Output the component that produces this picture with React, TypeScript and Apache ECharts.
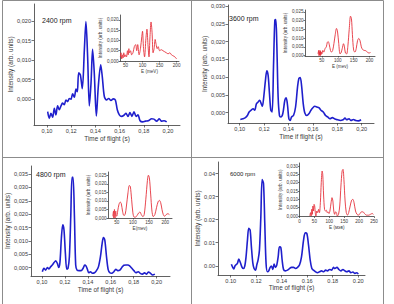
import { useEffect, useRef } from "react";
import * as echarts from "echarts";

const FONT = "'Liberation Sans', Arial, sans-serif";
const BLUE = "#1f1fcc";
const RED = "#e5323c";
const INK = "#3a3a3a";
const RULE = "#8c8c8c";

// Time-of-flight spectra: [time of flight (s), intensity (arb. units)]
const tof2400 = [[0.1006,-0.0032],[0.1019,-0.0049],[0.1033,-0.0036],[0.1047,-0.0046],[0.1061,-0.0023],[0.1074,-0.0040],[0.1088,-0.0017],[0.1102,-0.0027],[0.1116,-0.0017],[0.1129,-0.0010],[0.1143,-0.0014],[0.1157,-0.0002],[0.1171,-0.0006],[0.1185,0.0002],[0.1198,0.0000],[0.1212,0.0014],[0.1226,0.0005],[0.1240,0.0026],[0.1251,0.0019],[0.1262,0.0068],[0.1276,0.0062],[0.1292,0.0027],[0.1309,0.0127],[0.1322,0.0199],[0.1336,0.0109],[0.1350,-0.0017],[0.1364,0.0041],[0.1377,0.0128],[0.1391,0.0067],[0.1408,-0.0043],[0.1424,0.0032],[0.1444,0.0088],[0.1457,0.0058],[0.1474,0.0007],[0.1493,-0.0002],[0.1510,0.0002],[0.1529,-0.0003],[0.1548,0.0001],[0.1565,-0.0002],[0.1581,-0.0027],[0.1598,-0.0040],[0.1617,-0.0044],[0.1636,-0.0041],[0.1653,-0.0036],[0.1669,-0.0044],[0.1686,-0.0034],[0.1702,-0.0044],[0.1719,-0.0032],[0.1736,-0.0044],[0.1752,-0.0040],[0.1769,-0.0055],[0.1791,-0.0058],[0.1813,-0.0056],[0.1837,-0.0055],[0.1865,-0.0050],[0.1884,-0.0051],[0.1906,-0.0056],[0.1928,-0.0050],[0.1945,-0.0056],[0.1967,-0.0055],[0.1989,-0.0058]];

const tof3600 = [[0.1005,-0.0019],[0.1027,-0.0017],[0.1047,-0.0014],[0.1063,-0.0008],[0.1077,0.0002],[0.1096,0.0008],[0.1110,0.0011],[0.1123,0.0007],[0.1137,0.0025],[0.1151,0.0030],[0.1164,0.0035],[0.1178,0.0024],[0.1186,0.0018],[0.1197,0.0044],[0.1211,0.0091],[0.1222,0.0118],[0.1233,0.0105],[0.1244,0.0054],[0.1255,0.0007],[0.1266,0.0002],[0.1277,0.0129],[0.1288,0.0260],[0.1296,0.0262],[0.1304,0.0195],[0.1315,0.0044],[0.1326,-0.0008],[0.1337,-0.0012],[0.1353,-0.0003],[0.1370,0.0035],[0.1381,0.0042],[0.1392,0.0021],[0.1403,-0.0017],[0.1414,-0.0022],[0.1425,-0.0012],[0.1441,-0.0008],[0.1458,0.0016],[0.1474,0.0072],[0.1485,0.0096],[0.1496,0.0099],[0.1507,0.0077],[0.1521,0.0025],[0.1534,-0.0001],[0.1551,-0.0008],[0.1567,-0.0003],[0.1584,0.0007],[0.1600,0.0014],[0.1616,0.0018],[0.1633,0.0016],[0.1649,0.0014],[0.1666,0.0007],[0.1685,0.0002],[0.1704,-0.0008],[0.1721,-0.0012],[0.1740,-0.0017],[0.1759,-0.0014],[0.1781,-0.0018],[0.1803,-0.0020],[0.1825,-0.0022],[0.1847,-0.0020],[0.1863,-0.0015],[0.1877,-0.0020],[0.1896,-0.0017],[0.1912,-0.0022],[0.1932,-0.0019],[0.1951,-0.0022],[0.1973,-0.0023],[0.1995,-0.0020]];

const tof4800 = [[0.1003,-0.0015],[0.1017,-0.0002],[0.1032,-0.0009],[0.1047,0.0001],[0.1061,-0.0005],[0.1076,0.0004],[0.1090,0.0010],[0.1105,0.0019],[0.1120,0.0026],[0.1134,0.0016],[0.1146,0.0001],[0.1157,0.0022],[0.1169,0.0110],[0.1181,0.0160],[0.1192,0.0141],[0.1204,0.0054],[0.1216,-0.0006],[0.1227,-0.0002],[0.1239,0.0041],[0.1251,0.0191],[0.1262,0.0338],[0.1271,0.0338],[0.1283,0.0191],[0.1294,0.0010],[0.1306,-0.0009],[0.1324,-0.0011],[0.1341,-0.0011],[0.1359,-0.0002],[0.1373,0.0010],[0.1385,0.0006],[0.1396,-0.0006],[0.1408,-0.0019],[0.1423,-0.0015],[0.1440,-0.0021],[0.1458,-0.0019],[0.1475,-0.0011],[0.1493,0.0004],[0.1510,0.0041],[0.1525,0.0091],[0.1536,0.0113],[0.1548,0.0103],[0.1563,0.0041],[0.1577,-0.0006],[0.1592,-0.0019],[0.1609,-0.0021],[0.1627,-0.0015],[0.1644,-0.0006],[0.1662,-0.0011],[0.1679,-0.0009],[0.1697,0.0001],[0.1714,0.0009],[0.1732,0.0010],[0.1749,0.0010],[0.1767,0.0006],[0.1784,-0.0002],[0.1802,-0.0011],[0.1819,-0.0019],[0.1840,-0.0015],[0.1857,-0.0021],[0.1877,-0.0024],[0.1895,-0.0019],[0.1912,-0.0024],[0.1930,-0.0016],[0.1947,-0.0021],[0.1965,-0.0027],[0.1985,-0.0024]];

const tof6000 = [[0.1005,0.0007],[0.1013,-0.0004],[0.1024,-0.0014],[0.1034,0.0000],[0.1052,0.0010],[0.1063,0.0029],[0.1076,0.0013],[0.1089,-0.0007],[0.1099,-0.0012],[0.1110,-0.0001],[0.1120,0.0039],[0.1131,0.0111],[0.1141,0.0162],[0.1152,0.0155],[0.1162,0.0082],[0.1173,0.0013],[0.1183,-0.0012],[0.1194,-0.0019],[0.1204,0.0003],[0.1215,0.0027],[0.1225,0.0068],[0.1236,0.0212],[0.1246,0.0374],[0.1257,0.0357],[0.1267,0.0183],[0.1277,0.0010],[0.1288,-0.0026],[0.1298,-0.0022],[0.1309,-0.0007],[0.1319,-0.0001],[0.1330,-0.0016],[0.1340,0.0007],[0.1351,-0.0007],[0.1361,0.0003],[0.1372,0.0039],[0.1382,0.0082],[0.1393,0.0079],[0.1403,0.0025],[0.1414,-0.0016],[0.1429,-0.0022],[0.1445,-0.0019],[0.1461,-0.0012],[0.1476,-0.0007],[0.1492,-0.0007],[0.1508,-0.0012],[0.1524,-0.0007],[0.1539,0.0003],[0.1555,0.0039],[0.1571,0.0111],[0.1584,0.0143],[0.1597,0.0140],[0.1610,0.0090],[0.1623,0.0025],[0.1636,-0.0012],[0.1649,-0.0019],[0.1665,-0.0026],[0.1681,-0.0030],[0.1696,-0.0026],[0.1712,-0.0022],[0.1728,-0.0026],[0.1744,-0.0019],[0.1759,-0.0022],[0.1775,-0.0016],[0.1791,-0.0019],[0.1806,-0.0007],[0.1817,-0.0012],[0.1833,-0.0007],[0.1848,-0.0016],[0.1864,-0.0022],[0.1880,-0.0016],[0.1895,-0.0022],[0.1911,-0.0026],[0.1927,-0.0022],[0.1942,-0.0030],[0.1958,-0.0027],[0.1974,-0.0033],[0.1990,-0.0030],[0.2000,-0.0036]];

// Energy spectra: [E (meV), intensity (arb. units)]
const energy2400 = [[35,0.002],[37,0.004],[39,0.001],[41,0.003],[43,0.0015],[45,0.004],[48,0.002],[50,0.003],[53,0.002],[56,0.005],[58,0.003],[60,0.006],[62,0.004],[65,0.005],[68,0.003],[72,0.004],[76,0.007],[80,0.008],[83,0.005],[86,0.008],[90,0.003],[94,0.006],[98,0.012],[100,0.0145],[103,0.006],[106,0.002],[110,0.011],[113,0.0155],[116,0.008],[119,0.002],[122,0.012],[125,0.019],[128,0.014],[131,0.004],[134,0.006],[137,0.0105],[140,0.008],[143,0.006],[146,0.007],[150,0.005],[155,0.0055],[160,0.005],[165,0.0045],[170,0.004],[175,0.0035],[180,0.004],[185,0.003],[190,0.0025],[195,0.002],[200,0.001]];

const energy3600 = [[38,0.001],[40,0.003],[41,0.0],[42,0.002],[43,0.0005],[44,0.003],[45,0.0],[46,0.0025],[47,0.0005],[48,0.002],[50,0.001],[53,0.003],[56,0.002],[60,0.004],[64,0.005],[67,0.0075],[70,0.008],[73,0.0065],[77,0.003],[80,0.002],[84,0.003],[88,0.007],[92,0.012],[96,0.0155],[99,0.014],[103,0.007],[107,0.001],[110,0.0015],[114,0.004],[118,0.0068],[121,0.005],[124,0.0015],[128,0.001],[132,0.006],[136,0.015],[140,0.0225],[143,0.021],[146,0.012],[150,0.003],[154,0.002],[158,0.004],[162,0.0085],[166,0.0098],[170,0.0085],[174,0.005],[178,0.0035],[183,0.003],[188,0.0028],[193,0.002],[198,0.0015],[203,0.0018]];

const energy4800 = [[38,0.001],[40,0.004],[41,0.0],[42,0.003],[43,0.005],[44,0.001],[45,0.0],[46,0.002],[47,0.004],[48,0.0015],[50,0.001],[53,0.004],[57,0.008],[61,0.0093],[64,0.0085],[68,0.004],[72,0.0015],[76,0.002],[80,0.007],[85,0.015],[89,0.019],[92,0.0185],[96,0.011],[100,0.003],[104,0.0005],[108,0.0005],[113,0.0015],[118,0.003],[122,0.0035],[126,0.002],[131,0.0008],[135,0.002],[140,0.011],[145,0.022],[148,0.025],[151,0.0235],[155,0.014],[159,0.004],[163,0.0008],[168,0.002],[173,0.006],[178,0.0095],[182,0.0103],[186,0.009],[190,0.005],[194,0.002],[198,0.001],[203,0.002],[208,0.0025],[213,0.002]];

const energy6000 = [[35,0.0],[37,0.002],[39,0.0],[41,0.004],[43,0.001],[45,0.006],[47,0.003],[49,0.007],[51,0.006],[53,0.002],[55,0.0],[58,0.003],[61,0.002],[64,0.004],[67,0.002],[70,0.008],[73,0.02],[76,0.027],[78,0.025],[81,0.012],[84,0.004],[87,0.003],[90,0.0035],[93,0.002],[96,0.0025],[99,0.0015],[102,0.003],[106,0.008],[109,0.011],[112,0.009],[115,0.003],[118,0.001],[121,0.0025],[124,0.002],[127,0.0],[131,0.001],[135,0.006],[139,0.018],[143,0.027],[146,0.028],[149,0.022],[153,0.009],[157,0.002],[161,0.0005],[165,0.002],[170,0.006],[175,0.0095],[179,0.010],[183,0.008],[188,0.003],[193,0.001],[198,0.0005],[203,0.0015],[208,0.0025],[213,0.0025],[218,0.0015],[225,0.0005],[232,0.0005],[238,0.001],[244,0.0015],[248,0.001]];

// Tick values
const tofTicks = [0.10, 0.12, 0.14, 0.16, 0.18, 0.20];
const energyTicks = [50, 100, 150, 200];
const energyTicks6000 = [0, 50, 100, 150, 200, 250];
const yTicks020 = [0, 0.005, 0.01, 0.015, 0.02];
const yTicks025 = [0, 0.005, 0.01, 0.015, 0.02, 0.025];
const yTicks030 = [0, 0.005, 0.01, 0.015, 0.02, 0.025, 0.03];
const yTicks035 = [0, 0.005, 0.01, 0.015, 0.02, 0.025, 0.03, 0.035];
const yTicks6000 = [0, 0.01, 0.02, 0.03, 0.04];

const rpmLabels = ["2400 rpm", "3600 rpm", "4800 rpm", "6000 rpm"];
const intensityName = "Intensity (arb. units)";

const comma = (d: number) => (v: number) => Number(v).toFixed(d).replace(".", ",");
const dot = (d: number) => (v: number) => Number(v).toFixed(d);
const mixed6000 = (v: number) => (Math.abs(Number(v) - 0.03) < 1e-9 ? "0,03" : Number(v).toFixed(2));
const integer = (v: number) => String(Math.round(Number(v)));

type Spec = {
  grid: { left: number; top: number; width: number; height: number };
  x: [number, number]; y: [number, number];
  xTicks: number[]; yTicks: number[];
  xFmt: (v: number) => string; yFmt: (v: number) => string;
  xName: string; yName: string;
  xGap: number; yGap: number;
  data: number[][]; color: string; width: number;
  inset: boolean;
};

function build(specs: Spec[]) {
  const grid: any[] = [], xAxis: any[] = [], yAxis: any[] = [], series: any[] = [];
  specs.forEach((s, i) => {
    const lab = s.inset ? 4.6 : 5.6;
    const nm = s.inset ? 4.6 : 6.4;
    const tick = s.inset ? 1.5 : 2.5;
    grid.push({ ...s.grid, containLabel: false, outerBoundsMode: "none" });
    const common = {
      type: "value",
      gridIndex: i,
      nameLocation: "middle",
      nameTextStyle: { fontSize: nm, color: INK, fontFamily: FONT },
      splitLine: { show: false },
      axisLine: { show: true, onZero: false, lineStyle: { color: INK, width: 0.8 } },
    };
    xAxis.push({
      ...common,
      min: s.x[0], max: s.x[1],
      name: s.xName, nameGap: s.xGap,
      axisTick: { show: true, length: tick, customValues: s.xTicks, lineStyle: { color: INK, width: 0.7 } },
      axisLabel: { customValues: s.xTicks, formatter: s.xFmt, fontSize: lab, color: INK, fontFamily: FONT, margin: s.inset ? 2 : 3 },
    });
    yAxis.push({
      ...common,
      min: s.y[0], max: s.y[1],
      name: s.yName, nameGap: s.yGap,
      axisTick: { show: true, length: tick, customValues: s.yTicks, lineStyle: { color: INK, width: 0.7 } },
      axisLabel: { customValues: s.yTicks, formatter: s.yFmt, fontSize: lab, color: INK, fontFamily: FONT, margin: s.inset ? 1.5 : 3 },
    });
    series.push({
      type: "line",
      xAxisIndex: i, yAxisIndex: i,
      data: s.data,
      showSymbol: false,
      smooth: 0.3,
      lineStyle: { color: s.color, width: s.width },
      z: s.inset ? 3 : 2,
    });
  });
  return { grid, xAxis, yAxis, series };
}

const specs: Spec[] = [
  {
    grid: { left: 34, top: 4, width: 146, height: 121 },
    x: [0.0893, 0.2099], y: [-0.0066, 0.0244], xTicks: tofTicks, yTicks: yTicks020,
    xFmt: comma(2), yFmt: comma(3), xName: "Time of flight (s)", yName: intensityName, xGap: 10, yGap: 14,
    data: tof2400, color: BLUE, width: 1.6, inset: false,
  },
  {
    grid: { left: 120, top: 15, width: 59, height: 46 },
    x: [34, 207], y: [0, 0.0224], xTicks: energyTicks, yTicks: yTicks020,
    xFmt: integer, yFmt: comma(3), xName: "E (meV)", yName: intensityName, xGap: 8, yGap: 15,
    data: energy2400, color: RED, width: 0.9, inset: true,
  },
  {
    grid: { left: 228, top: 5, width: 146, height: 118 },
    x: [0.0904, 0.2101], y: [-0.0029, 0.0303], xTicks: tofTicks, yTicks: yTicks030,
    xFmt: comma(2), yFmt: comma(3), xName: "Time if flight (s)", yName: intensityName, xGap: 10, yGap: 19,
    data: tof3600, color: BLUE, width: 1.6, inset: false,
  },
  {
    grid: { left: 305, top: 10, width: 70, height: 46 },
    x: [-3, 217], y: [-0.0002, 0.026], xTicks: energyTicks, yTicks: yTicks025,
    xFmt: integer, yFmt: comma(3), xName: "E (mev)", yName: intensityName, xGap: 8, yGap: 15,
    data: energy3600, color: RED, width: 0.9, inset: true,
  },
  {
    grid: { left: 31, top: 166, width: 139, height: 110 },
    x: [0.0904, 0.2117], y: [-0.0031, 0.038], xTicks: tofTicks, yTicks: yTicks035,
    xFmt: comma(2), yFmt: comma(3), xName: "Time of flight (s)", yName: intensityName, xGap: 10, yGap: 17,
    data: tof4800, color: BLUE, width: 1.6, inset: false,
  },
  {
    grid: { left: 108, top: 172, width: 64, height: 46 },
    x: [23, 221], y: [0, 0.0269], xTicks: energyTicks, yTicks: yTicks025,
    xFmt: integer, yFmt: comma(3), xName: "E(mev)", yName: intensityName, xGap: 8, yGap: 15,
    data: energy4800, color: RED, width: 0.9, inset: true,
  },
  {
    grid: { left: 218, top: 162, width: 147, height: 113 },
    x: [0.09, 0.2053], y: [-0.004, 0.045], xTicks: tofTicks, yTicks: yTicks6000,
    xFmt: dot(2), yFmt: mixed6000, xName: "Time of flight (s)", yName: intensityName, xGap: 8, yGap: 15,
    data: tof6000, color: BLUE, width: 1.6, inset: false,
  },
  {
    grid: { left: 299.5, top: 163, width: 74.5, height: 53.5 },
    x: [0, 250], y: [-0.0003, 0.0318], xTicks: energyTicks6000, yTicks: yTicks030,
    xFmt: integer, yFmt: comma(3), xName: "E (мэв)", yName: intensityName, xGap: 8, yGap: 16,
    data: energy6000, color: RED, width: 0.9, inset: true,
  },
];

// Table frame around the four panels and their rpm captions
const rules = [
  [2.5, 0.5, 2.5, 304], [191.5, 0.5, 191.5, 304], [383.5, 0.5, 383.5, 304],
  [2.5, 0.5, 383.5, 0.5], [2.5, 157.5, 383.5, 157.5],
];
const captionPos = [[42, 20, 7], [229, 18, 7], [36, 174, 7], [230, 174, 6]];

export default function App() {
  const ref = useRef<HTMLDivElement>(null);
  useEffect(() => {
    if (!ref.current) return;
    const chart = echarts.init(ref.current, undefined, { renderer: "svg" });
    const { grid, xAxis, yAxis, series } = build(specs);
    const graphic: any[] = rules.map(([x1, y1, x2, y2]) => ({
      type: "line",
      shape: { x1, y1, x2, y2 },
      style: { stroke: RULE, lineWidth: 1 },
      silent: true,
    }));
    rpmLabels.forEach((t, i) => {
      const [x, y, fs] = captionPos[i];
      graphic.push({
        type: "text", x, y,
        style: { text: t, fontSize: fs, fill: "#222", fontFamily: FONT, verticalAlign: "middle" },
        silent: true,
      });
    });
    chart.setOption({
      animation: false,
      backgroundColor: "#fff",
      textStyle: { fontFamily: FONT },
      grid, xAxis, yAxis, series, graphic,
    });
    return () => chart.dispose();
  }, []);
  return <div ref={ref} style={{ position: "fixed", left: 0, top: 0, width: 394, height: 304 }} />;
}
